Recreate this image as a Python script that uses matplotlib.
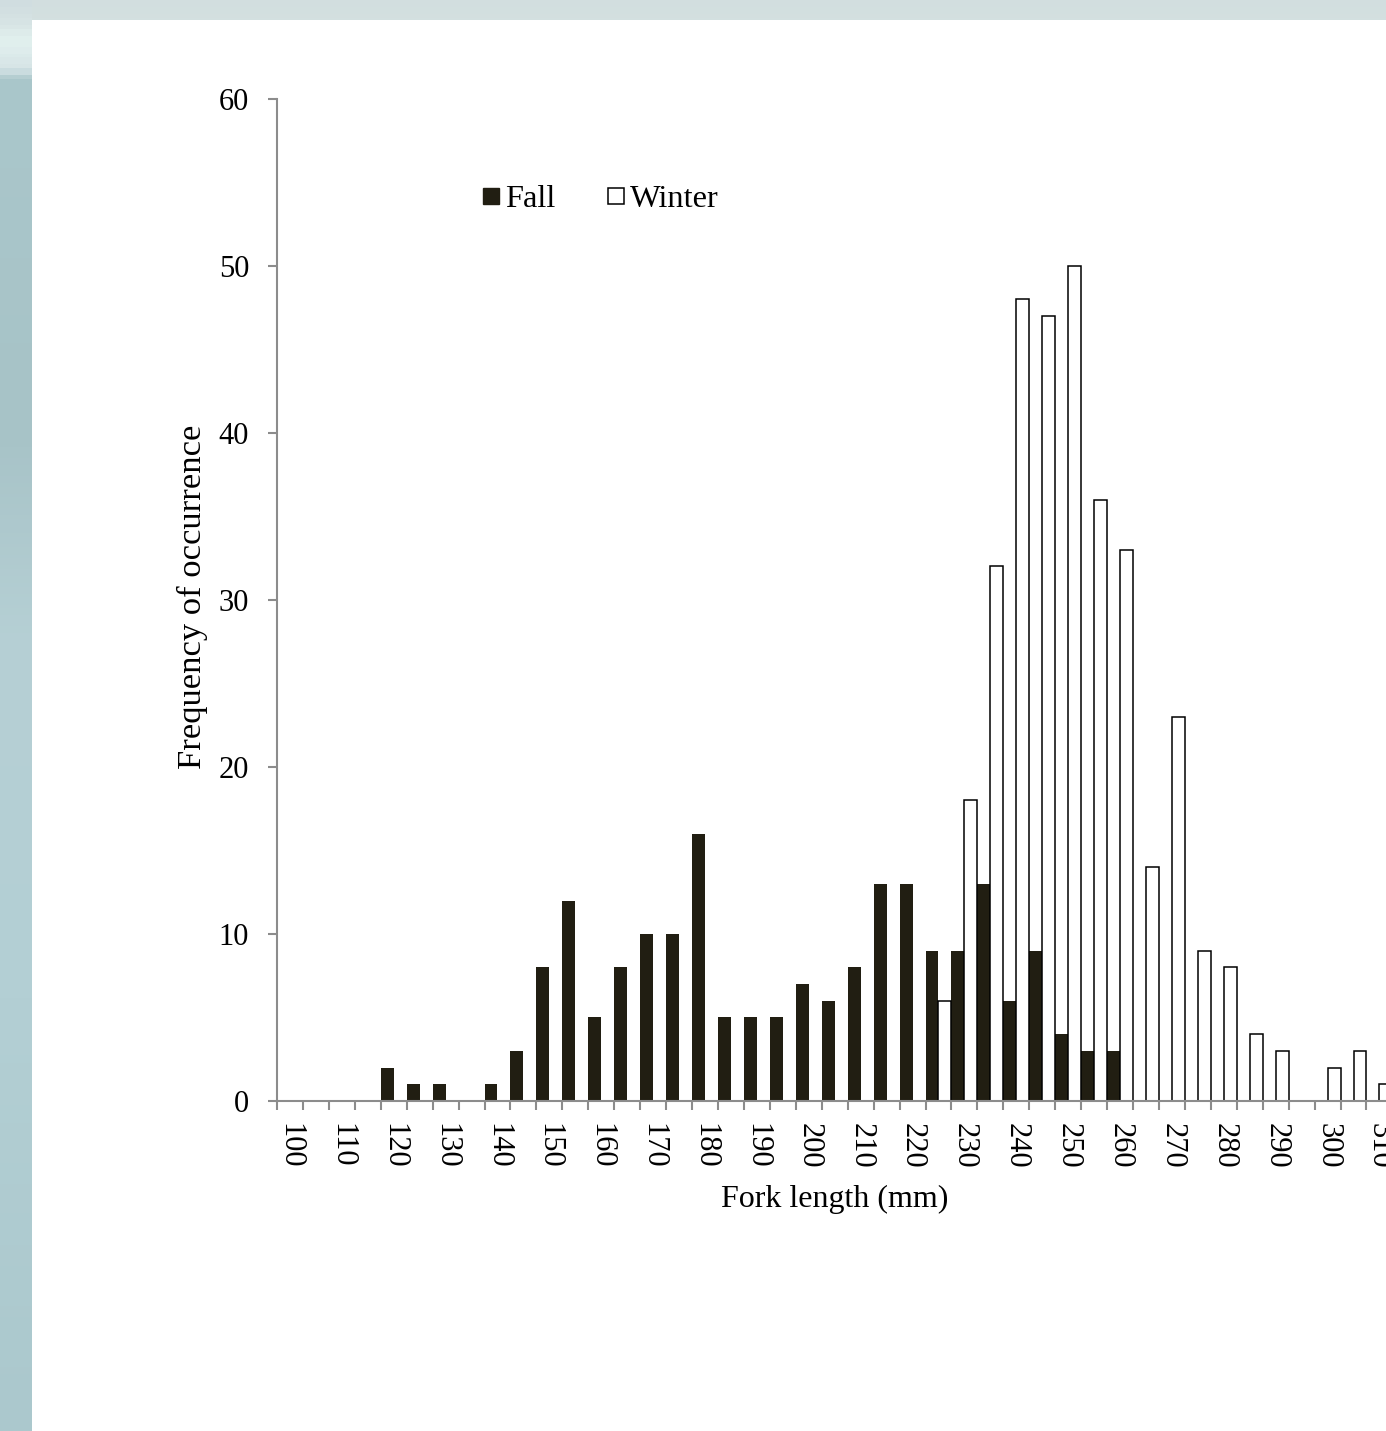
import numpy as np
import matplotlib
matplotlib.use("Agg")
import matplotlib.pyplot as plt
from matplotlib.colors import LinearSegmentedColormap
from matplotlib.lines import Line2D
from matplotlib.patches import Rectangle

# fork length classes (mm), 5 mm bins
lengths = list(range(100, 315, 5))
fall = [0, 0, 0, 0, 2, 1, 1, 0, 1, 3, 8, 12, 5, 8, 10, 10, 16, 5, 5, 5, 7, 6,
        8, 13, 13, 9, 9, 13, 6, 9, 4, 3, 3, 0, 0, 0, 0, 0, 0, 0, 0, 0, 0]
winter = [0, 0, 0, 0, 0, 0, 0, 0, 0, 0, 0, 0, 0, 0, 0, 0, 0, 0, 0, 0, 0, 0,
          0, 0, 0, 6, 18, 32, 48, 47, 50, 36, 33, 14, 23, 9, 8, 4, 3, 0, 2, 3, 1]
yticks = [0, 10, 20, 30, 40, 50, 60]

W, H = 1386, 1431
DARK = "#211e12"
GREY = "#8c8c8c"
plt.rcParams["font.family"] = ["Liberation Serif", "DejaVu Serif"]
FS = 22      # tick labels
FS_LAB = 23.3

fig = plt.figure(figsize=(W / 100, H / 100), dpi=100)

# background strip (sea photo behind the slide), then white panel
bg = fig.add_axes([0, 0, 1, 1], zorder=-10)
bg.set_axis_off()
stops = [(0.0, "#d0dde0"), (0.014, "#d8e5e5"), (0.025, "#e2f1ef"), (0.045, "#d6e4e6"),
         (0.053, "#aac7cb"), (0.3, "#a7c3c7"), (0.45, "#b6d0d5"), (0.7, "#b3cfd4"),
         (1.0, "#abc8cd")]
cmap = LinearSegmentedColormap.from_list("sea", stops)
bg.imshow(np.linspace(0, 1, 400).reshape(-1, 1), cmap=cmap, aspect="auto",
          extent=[0, 1, 0, 1], origin="upper")
bg.set_xlim(0, 1); bg.set_ylim(0, 1)
bg.add_patch(Rectangle((32 / W, 1 - 20 / H), 1, 20 / H, facecolor="#d3dfdf",
                       edgecolor="none", alpha=0.7))
bg.add_patch(Rectangle((32 / W, 0), 1, 1 - 20 / H, facecolor="white", edgecolor="none"))

n = len(lengths)
cw = 25.94
ax = fig.add_axes([277 / W, 1 - 1101 / H, n * cw / W, (1101 - 98.5) / H])
ax.patch.set_alpha(0)

idx = np.arange(n)
fa = np.array(fall); wi = np.array(winter)
mf = fa > 0; mw = wi > 0
ax.bar(idx[mf] + 0.25, fa[mf], width=0.5, color=DARK, edgecolor="none", zorder=2)
ax.bar(idx[mw] + 0.75, wi[mw], width=0.5, color="white", edgecolor="black",
       linewidth=1.1, zorder=2)

ax.set_xlim(0, n)
ax.set_ylim(0, 60)
ax.set_yticks(yticks)
ax.set_yticklabels([str(v) for v in yticks], fontsize=FS)
ax.tick_params(axis="y", direction="out", length=6.5, width=1.5, color=GREY, pad=13.5)

ax.set_xticks(idx[::2] + 0.5)
ax.set_xticklabels([str(v) for v in lengths[::2]], rotation=-90, fontsize=FS)
ax.tick_params(axis="x", which="major", length=0, pad=15.5)
ax.set_xticks(np.arange(n + 1), minor=True)
ax.tick_params(axis="x", which="minor", direction="out", length=6.5, width=1.5, color=GREY)

for s in ("top", "right"):
    ax.spines[s].set_visible(False)
for s in ("left", "bottom"):
    ax.spines[s].set_color(GREY)
    ax.spines[s].set_linewidth(1.5)
    ax.spines[s].set_zorder(3)

fig.text(835 / W, 1 - 1199 / H, "Fork length (mm)", fontsize=23, ha="center", va="center")
fig.text(192 / W, 1 - 597 / H, "Frequency of occurrence", fontsize=24.8, rotation=90,
         ha="center", va="center")

handles = [Line2D([], [], marker="s", linestyle="", markersize=11.5, markerfacecolor=DARK,
                  markeredgecolor=DARK),
           Line2D([], [], marker="s", linestyle="", markersize=11.5, markerfacecolor="white",
                  markeredgecolor="black", markeredgewidth=1.1)]
ax.legend(handles, ["Fall", "Winter"], ncol=2, frameon=False, fontsize=FS_LAB,
          loc="center left", bbox_to_anchor=(482 / W, 1 - 199 / H),
          bbox_transform=fig.transFigure, borderpad=0, borderaxespad=0,
          handlelength=0.55, handletextpad=0.15, columnspacing=1.6)

fig.savefig("out.png", dpi=100)
